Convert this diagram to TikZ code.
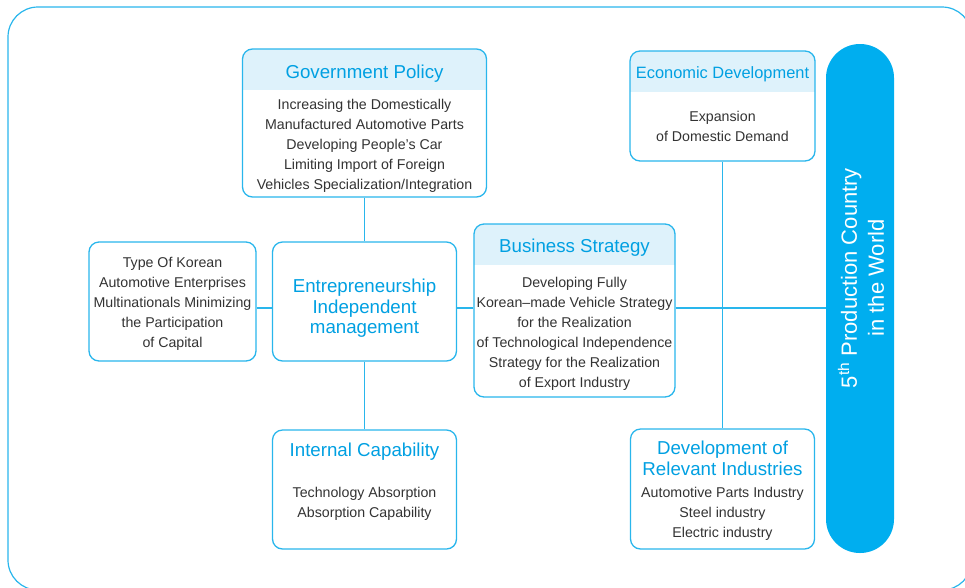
\documentclass[tikz,border=0pt]{standalone}
\usepackage{fontspec}
\setmainfont{Liberation Sans}
\definecolor{linec}{RGB}{41,182,236}
\definecolor{titlec}{RGB}{0,160,226}
\definecolor{headc}{RGB}{222,242,251}
\definecolor{textc}{RGB}{51,51,51}
\definecolor{pillc}{RGB}{0,174,239}
\begin{document}
\begin{tikzpicture}[x=1pt,y=-1pt,
  conn/.style={draw=linec, line width=1.2pt},
  box/.style={draw=linec, line width=1.3pt, rounded corners=10pt, inner sep=0pt, fill=white},
  headbox/.style={box, path picture={\fill[headc, sharp corners] (path picture bounding box.north west) rectangle ([yshift=-41pt]path picture bounding box.north east);}},
  title/.style={text=titlec, font=\fontsize{18.7}{20.5}\selectfont, align=center, inner sep=0pt},
  body/.style={text=textc, font=\fontsize{14.2}{20}\selectfont, align=center, inner sep=0pt},
]
\useasboundingbox (0,0) rectangle (965,587);
\clip (0,0) rectangle (965,587);

% outer frame
\draw[draw=linec, line width=1.2pt, rounded corners=30pt] (8,7) rectangle (972,590);

% boxes
\node[headbox, minimum width=244pt, minimum height=148pt] (gov)  at (364.5,123) {};
\node[headbox, minimum width=185pt, minimum height=110pt] (econ) at (722.5,106) {};
\node[box,     minimum width=167pt, minimum height=119pt] (type) at (172.5,301.5) {};
\node[box,     minimum width=184pt, minimum height=119pt] (entre) at (364.5,301.5) {};
\node[headbox, minimum width=201pt, minimum height=173pt] (bus)  at (574.5,310.5) {};
\node[box,     minimum width=184pt, minimum height=119pt] (intc) at (364.5,489.5) {};
\node[box,     minimum width=184pt, minimum height=120pt] (dev)  at (722.5,489) {};
\node[fill=pillc, rounded corners=33.9pt, minimum width=68pt, minimum height=509pt, inner sep=0pt] (pill) at (860,298.5) {};

% connectors
\coordinate (hline) at (0,308);
\draw[conn] (gov.south) -- (entre.north);
\draw[conn] (entre.south) -- (intc.north);
\draw[conn] (type.east |- hline) -- (entre.west |- hline);
\draw[conn] (entre.east |- hline) -- (bus.west |- hline);
\draw[conn] (bus.east |- hline) -- (pill.west |- hline);
\draw[conn] (econ.south) -- (dev.north);

% texts
\node[title] (govt) at (364.5,74) {Government Policy};
\node[body] (govb) at (364.5,146) {Increasing the Domestically\\Manufactured Automotive Parts\\Developing People’s Car\\Limiting Import of Foreign\\Vehicles Specialization/Integration};

\node[title, font=\fontsize{16.4}{20}\selectfont] (econt) at (722.5,74) {Economic Development};
\node[body] (econb) at (722.5,126) {Expansion\\of Domestic Demand};

\node[body] (typeb) at (172.5,304) {Type Of Korean\\Automotive Enterprises\\Multinationals Minimizing\\the Participation\\of Capital};

\node[title] (entret) at (364.5,308.5) {Entrepreneurship\\Independent\\management};

\node[title] (bust) at (574.5,248) {Business Strategy};
\node[body] (busb) at (574.5,334) {Developing Fully\\Korean–made Vehicle Strategy\\for the Realization\\of Technological Independence\\Strategy for the Realization\\of Export Industry};

\node[title] (intct) at (364.5,452) {Internal Capability};
\node[body] (intcb) at (364.5,504) {Technology Absorption\\Absorption Capability};

\node[title] (devt) at (722.5,458.5) {Development of\\Relevant Industries};
\node[body] (devb) at (722.5,514) {Automotive Parts Industry\\Steel industry\\Electric industry};

\node[rotate=90, text=white, font=\fontsize{22}{27}\selectfont, align=center, inner sep=0pt] (pillt) at (861,278) {5\textsuperscript{th} Production Country\\in the World};
\end{tikzpicture}
\end{document}
